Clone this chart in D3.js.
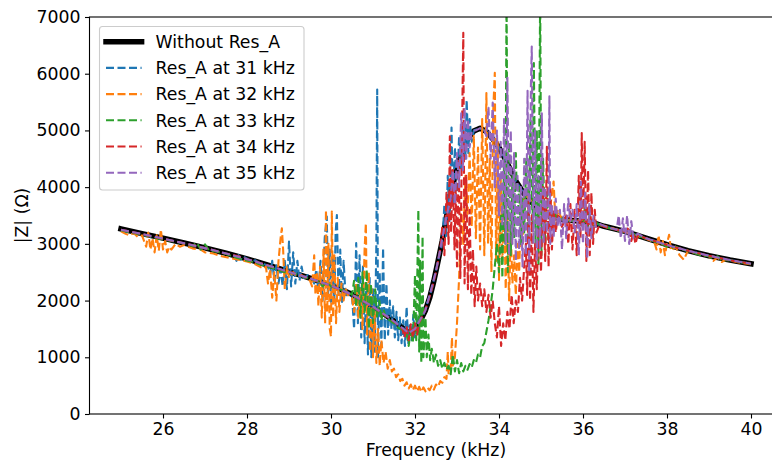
<!DOCTYPE html>
<html>
<head>
<meta charset="utf-8">
<script src="https://cdn.jsdelivr.net/npm/d3@7"></script>
<style>
  body { margin: 0; background: #fff; }
  svg { display: block; }
  text { font-family: "DejaVu Sans", sans-serif; fill: #000; }
</style>
</head>
<body>
<svg id="chart" width="772" height="462"></svg>
<script>
// Impedance magnitude |Z| (ohm) against frequency (kHz)

// Reference sweep without the resonator
const baseFreq = [25, 25.5, 26, 26.5, 27, 27.5, 28, 28.5, 29, 29.5, 30, 30.5, 31, 31.25, 31.5, 31.75, 31.85, 31.95,
  32.05, 32.15, 32.25, 32.35, 32.45, 32.55, 32.65, 32.75, 32.85, 32.95, 33.05, 33.15, 33.25, 33.4, 33.55, 33.7,
  33.85, 34, 34.2, 34.4, 34.6, 34.8, 35, 35.25, 35.5, 35.75, 36, 36.25, 36.5, 37, 37.5, 38, 38.5, 39, 39.5, 40];
const baseZ = [3265, 3180, 3100, 3015, 2930, 2835, 2735, 2625, 2510, 2395, 2270, 2110, 1900, 1770, 1640, 1490, 1430, 1460,
  1540, 1680, 1830, 2050, 2350, 2700, 3060, 3480, 3840, 4200, 4500, 4700, 4850, 4990, 5040, 4980,
  4850, 4700, 4420, 4110, 3880, 3720, 3610, 3490, 3430, 3410, 3400, 3370, 3310, 3220, 3100, 2985, 2880, 2790, 2715, 2650];

// Sweeps with the resonator tuned to 31..35 kHz, as [frequency, |Z|]
const res31 = [[25,3230],[25.25,3200],[25.5,3160],[25.75,3120],[26,3090],[26.25,3050],[26.5,3000],[26.75,2960],[27,2920],[27.25,2870],[27.5,2830],[27.7,2790],[27.75,2700],[27.8,2800],[27.85,2720],[27.9,2780],[28,2740],[28.1,2680],[28.2,2710],[28.3,2660],[28.4,2650],
  [28.5,2600],[28.55,2450],[28.6,2700],[28.65,2350],[28.7,2620],[28.75,2300],[28.8,2550],[28.85,2250],[28.9,2700],[28.95,2200],[29.0,3040],[29.05,2250],[29.1,2850],[29.15,2300],[29.2,2700],[29.25,2350],[29.3,2600],[29.35,2400],[29.45,2450],[29.55,2380],
  [29.6,2300],[29.65,2550],[29.7,2150],[29.75,2700],[29.8,2000],[29.85,3100],[29.9,3480],[29.93,2100],[29.97,2900],[30.0,1950],[30.04,2800],[30.08,2000],[30.11,3200],[30.14,3510],[30.18,2100],[30.22,2900],[30.26,1950],[30.3,2700],[30.35,2050],[30.4,2150],[30.45,2100],
  [30.5,2100],[30.55,1500],[30.6,3015],[30.64,1600],[30.68,2800],[30.72,1350],[30.76,2600],[30.8,1250],[30.84,2300],[30.88,1050],[30.92,2400],[30.96,1000],[31.0,2200],[31.04,1100],[31.08,3000],[31.1,5720],[31.12,1000],[31.16,2500],[31.2,1200],[31.24,2930],[31.28,1300],[31.32,2300],[31.36,1400],[31.4,2000],[31.44,1500],[31.48,1900],[31.52,1350],[31.56,1800],[31.6,1300],[31.64,1700],[31.68,1250],[31.72,1650],[31.76,1200],[31.8,1890],[31.84,1250],[31.88,1600],[31.92,1300],[31.96,1750],[32.0,1350],[32.04,1700],[32.08,1450],
  [32.2,1750],[32.4,2200],[32.55,2700],[32.65,3000],[32.7,3700],[32.74,3100],[32.78,4200],[32.82,3400],[32.87,5050],[32.9,3700],[32.95,4700],[33.0,3900],[33.05,4900],[33.1,4300],[33.15,5100],[33.2,4500],[33.23,5540],[33.27,4600],[33.3,5200],[33.35,4800],[33.4,5000],[33.55,5040],[33.7,4980],[33.85,4850],[34,4700],[34.2,4420],[34.4,4110],[34.6,3880],[34.8,3720],[35,3610],[35.25,3490],[35.5,3430],[35.75,3410],[36,3400],[36.25,3370],[36.5,3310],[37,3220],[37.5,3100],[38,2985],[38.5,2880],[39,2790],[39.5,2715],[40,2650]];

const res32 = [[25,3220],[25.1,3180],[25.2,3150],[25.3,3190],[25.4,3120],[25.5,3150],[25.6,2950],[25.65,3200],[25.7,2900],[25.75,3100],[25.8,2850],[25.85,3150],[25.9,2880],[25.95,3250],[26.0,2900],[26.05,3050],[26.1,2850],[26.15,2950],[26.2,2900],[26.3,3000],[26.4,2950],[26.5,2980],[26.7,2920],[26.9,2900],[27.0,2850],[27.2,2830],[27.4,2780],[27.6,2750],[27.8,2720],[28.0,2690],[28.2,2640],[28.4,2560],
  [28.45,2600],[28.5,2300],[28.55,2550],[28.6,2050],[28.65,2500],[28.7,2000],[28.75,2700],[28.8,3100],[28.83,3275],[28.86,2900],[28.9,2200],[28.95,2600],[29.0,2400],[29.1,2500],[29.2,2420],[29.3,2450],[29.4,2400],[29.5,2350],
  [29.55,2250],[29.6,2800],[29.63,2100],[29.67,2500],[29.7,1900],[29.74,2600],[29.78,1700],[29.82,2900],[29.86,1600],[29.88,3600],[29.91,1800],[29.94,3000],[29.97,1500],[30.0,1365],[30.02,3570],[30.05,1700],[30.08,2800],[30.12,1600],[30.16,2400],[30.2,1800],[30.25,2300],[30.3,2000],[30.35,2200],[30.4,2100],[30.5,2050],
  [30.55,1800],[30.6,2300],[30.65,1700],[30.7,2200],[30.75,1500],[30.8,2900],[30.83,3365],[30.86,1400],[30.9,2500],[30.93,1100],[30.97,2200],[31.0,1000],[31.04,1800],[31.08,900],[31.12,1500],[31.16,850],[31.2,1300],[31.25,900],[31.3,1100],[31.35,800],[31.4,950],[31.45,750],[31.5,800],[31.55,650],[31.6,700],[31.65,580],[31.7,620],[31.75,500],[31.8,560],[31.85,450],[31.9,520],[31.95,420],[32.0,500],[32.05,400],[32.1,480],[32.15,390],[32.2,470],[32.25,400],[32.3,460],[32.35,420],[32.4,500],[32.45,430],[32.5,520],[32.55,480],[32.6,580],[32.65,550],[32.7,650],[32.75,620],[32.78,1100],[32.8,700],[32.85,800],[32.88,1350],[32.9,850],[32.95,1000],[33.0,1600],
  [33.05,2400],[33.1,3660],[33.15,3000],[33.2,4200],[33.25,3500],[33.3,4600],[33.35,3300],[33.4,4900],[33.45,3100],[33.5,4700],[33.55,2900],[33.6,5200],[33.65,2800],[33.7,5660],[33.74,3000],[33.78,4500],[33.82,2500],[33.86,5300],[33.9,6015],[33.93,2700],[33.97,4800],[34.0,2365],[34.04,4200],[34.08,2700],[34.12,3800],[34.16,2200],[34.2,3500],[34.24,2000],[34.28,3200],[34.32,2300],[34.36,2800],[34.4,2100],[34.44,3000],[34.48,2500],[34.52,3600],[34.56,3000],[34.6,3900],[34.7,3800],[34.8,3750],[34.9,3650],[35.0,3600],
  [35.2,3550],[35.3,4100],[35.35,3300],[35.4,3600],[35.5,3430],[35.75,3410],[36,3420],[36.2,3350],[36.5,3320],[37,3210],[37.5,3090],[37.7,3030],[37.75,2900],[37.8,3150],[37.85,2850],[37.9,3050],[37.95,2800],[38.0,3000],[38.05,3160],[38.1,2880],[38.2,2950],[38.3,2800],[38.4,2720],[38.5,2880],[38.6,2850],[38.8,2810],[39.0,2780],[39.1,2700],[39.2,2760],[39.3,2680],[39.4,2720],[39.6,2690],[39.8,2660],[40.0,2640]];

const res33 = [[25,3240],[25.3,3190],[25.6,3150],[25.9,3090],[26.2,3050],[26.5,3010],[26.7,2960],[26.8,3020],[26.9,2900],[27.0,2990],[27.1,2880],[27.3,2860],[27.5,2820],[27.7,2770],[27.9,2720],[28.1,2690],[28.3,2640],[28.5,2600],[28.7,2550],[28.9,2500],[29.1,2480],[29.3,2430],[29.5,2380],[29.7,2340],[29.8,2250],[29.9,2330],[30.0,2250],[30.2,2200],[30.4,2150],
  [30.5,2100],[30.55,2350],[30.6,1900],[30.65,2400],[30.7,1700],[30.75,2500],[30.8,1800],[30.85,2540],[30.9,1500],[30.95,2300],[31.0,1600],[31.05,2200],[31.1,1700],[31.15,2000],[31.2,1650],[31.25,1850],[31.3,1700],[31.4,1650],[31.5,1600],[31.6,1520],[31.7,1480],[31.8,1420],[31.85,1200],[31.9,1500],[31.95,1250],[32.0,2450],[32.03,1300],[32.08,3600],[32.1,1100],[32.12,2700],[32.15,900],[32.18,3130],[32.2,1000],[32.25,1700],[32.28,1000],[32.32,1400],[32.36,950],[32.4,1150],[32.45,900],[32.5,1050],[32.55,850],[32.6,950],[32.65,800],[32.7,900],[32.75,780],[32.8,850],[32.85,700],[32.9,1050],[32.95,750],[33.0,950],[33.05,720],[33.1,900],[33.15,750],[33.2,850],[33.25,780],[33.3,880],[33.35,820],[33.4,950],[33.45,900],[33.5,1050],[33.55,1000],[33.6,1200],[33.65,1250],[33.7,1450],[33.75,1650],[33.8,1900],[33.85,2200],[33.9,2600],[33.95,3000],[34.0,2500],[34.05,3500],
  [34.08,2400],[34.12,4500],[34.15,3000],[34.18,7400],[34.21,2500],[34.24,4800],[34.28,2800],[34.32,4200],[34.36,3100],[34.4,4600],[34.44,3300],[34.48,4000],[34.52,3000],[34.56,3800],[34.6,3200],[34.65,4500],[34.7,3000],[34.75,5200],[34.8,3300],[34.83,6190],[34.87,3000],[34.9,5000],[34.94,2600],[34.98,7400],[35.01,2800],[35.05,4500],[35.1,3000],[35.15,3900],[35.2,3300],[35.3,3600],[35.4,3400],[35.5,3450],[35.7,3400],[35.9,3420],[36.0,3300],[36.05,3700],[36.1,3150],[36.15,3600],[36.2,3250],[36.3,3380],[36.5,3300],[36.7,3260],[36.9,3220],[37.1,3190],[37.3,3150],[37.5,3090],[37.7,3040],[37.9,2990],[38.0,2950],[38.1,2930],[38.2,2950],[38.4,2890],[38.6,2850],[38.8,2800],[39.0,2780],[39.1,2740],[39.2,2780],[39.3,2710],[39.5,2710],[39.7,2680],[40,2650]];

const res34 = [[25,3250],[25.5,3170],[26,3090],[26.5,3010],[27,2925],[27.5,2830],[27.8,2780],[28,2730],[28.5,2620],[29,2505],[29.5,2390],[30,2265],[30.5,2100],[31,1890],[31.5,1630],[31.7,1500],[31.75,1350],[31.8,1550],[31.85,1300],[31.9,1580],[31.95,1350],[32.0,1600],[32.05,1400],[32.1,1620],[32.2,1750],[32.3,1950],[32.4,2200],[32.5,2500],[32.6,2900],
  [32.65,3300],[32.7,2800],[32.75,3900],[32.8,3000],[32.83,4895],[32.86,3200],[32.9,4300],[32.94,2900],[32.97,4000],[33.0,2600],[33.04,4500],[33.08,2400],[33.12,5000],[33.15,6720],[33.18,2300],[33.22,4200],[33.26,2200],[33.3,3600],[33.34,2100],[33.38,2900],[33.42,1900],[33.46,2600],[33.5,2000],[33.55,2300],[33.6,1900],[33.65,2200],[33.7,1800],[33.75,2100],[33.8,1700],[33.85,2000],[33.9,1600],[33.95,1350],[34.0,1900],[34.05,1200],[34.1,1600],[34.15,1300],[34.2,1800],[34.25,1500],[34.3,2100],[34.35,1600],[34.4,2000],[34.45,1800],[34.5,2400],[34.55,2000],[34.6,2600],
  [34.64,3000],[34.67,2100],[34.7,3800],[34.74,2000],[34.78,3500],[34.82,1800],[34.86,3000],[34.9,2200],[34.95,3600],[35.0,2500],[35.05,4000],[35.1,2700],[35.14,4710],[35.18,2600],[35.22,4000],[35.26,2900],[35.3,3600],[35.35,3200],[35.4,3500],[35.5,3300],[35.6,3500],[35.65,3000],[35.7,3700],[35.75,2900],[35.8,3600],[35.85,2800],[35.9,4200],[35.94,3100],[35.97,4955],[36.0,3300],[36.04,4800],[36.08,2700],[36.12,4300],[36.16,2800],[36.2,3900],[36.24,3000],[36.28,3600],[36.32,3200],[36.4,3350],[36.5,3300],
  [37.0,3210],[37.1,3300],[37.15,3050],[37.2,3200],[37.25,3000],[37.3,3150],[37.5,3100],[38,2980],[38.5,2880],[39,2790],[39.5,2710],[40,2650]];

const res35 = [[25,3250],[25.5,3175],[26,3095],[26.5,3010],[27,2925],[27.5,2830],[28,2730],[28.5,2620],[29,2505],[29.5,2390],[30,2265],[30.5,2105],[31,1895],[31.5,1635],[31.85,1430],[32,1500],[32.25,1830],[32.5,2520],[32.75,3480],
  [32.85,3800],[32.9,4300],[32.95,3700],[33.0,4600],[33.05,4000],[33.1,5300],[33.14,4300],[33.18,5400],[33.22,4500],[33.26,5200],[33.3,4700],[33.35,5000],[33.45,5000],[33.55,5040],[33.65,5000],[33.7,4900],[33.75,5400],[33.8,4500],[33.85,5490],[33.9,4000],[33.95,5000],[34.0,3500],[34.04,4800],[34.08,3300],[34.12,5200],[34.16,3000],[34.2,5930],[34.24,2800],[34.28,5000],[34.32,3000],[34.36,4600],[34.4,2700],[34.44,4200],[34.48,2900],[34.52,4000],[34.56,2600],[34.6,4500],[34.64,2800],[34.68,5700],[34.72,2500],[34.76,5800],[34.78,6480],[34.82,3000],[34.86,5000],[34.9,2700],[34.94,4200],[34.98,2900],[35.02,5300],[35.06,3000],[35.1,4000],[35.14,3200],[35.18,3800],[35.2,5600],[35.22,3000],[35.26,3700],[35.3,3100],[35.35,3800],[35.4,3300],[35.45,3600],[35.5,2900],[35.55,3700],[35.6,3100],[35.65,3800],[35.7,3400],[35.75,3600],[35.8,3200],[35.85,3700],[35.9,2800],[35.95,4100],[36.0,3000],[36.05,3900],[36.1,2750],[36.15,3700],[36.2,3100],[36.25,3500],[36.3,3300],[36.4,3350],[36.6,3290],[36.8,3250],[36.85,3500],[36.9,3100],[36.95,3450],[37.0,3050],[37.05,3500],[37.1,3000],[37.15,3400],[37.2,3100],[37.3,3180],[37.5,3100],[38,2980],[38.5,2880],[39,2790],[39.5,2715],[40,2650]];

const seriesData = [res31, res32, res33, res34, res35];
const seriesNames = ["Res_A at 31 kHz", "Res_A at 32 kHz", "Res_A at 33 kHz", "Res_A at 34 kHz", "Res_A at 35 kHz"];
const seriesColors = ["#1f77b4", "#ff7f0e", "#2ca02c", "#d62728", "#9467bd"];
const baseName = "Without Res_A";
const xTicks = [26, 28, 30, 32, 34, 36, 38, 40];
const yTicks = [0, 1000, 2000, 3000, 4000, 5000, 6000, 7000];

(function draw() {
  const FONT = 17.3;
  const svg = d3.select("#chart");

  const pL = 89.5, pR = 782.5, pT = 17, pB = 414;
  const x = d3.scaleLinear().domain([24.25, 40.75]).range([pL, pR]);
  const y = d3.scaleLinear().domain([0, 7000]).range([pB, pT]);

  svg.append("defs").append("clipPath").attr("id", "plotClip")
    .append("rect").attr("x", pL).attr("y", pT)
    .attr("width", pR - pL).attr("height", pB - pT);

  const plot = svg.append("g").attr("clip-path", "url(#plotClip)");
  const line = d3.line().x(d => x(d[0])).y(d => y(d[1]));

  // reference sweep: thick black line underneath
  plot.append("path")
    .datum(baseFreq.map((f, i) => [f, baseZ[i]]))
    .attr("d", line)
    .attr("fill", "none")
    .attr("stroke", "#000")
    .attr("stroke-width", 5.5)
    .attr("stroke-linejoin", "round")
    .attr("stroke-linecap", "square");

  // dashed resonator sweeps
  seriesData.forEach((data, i) => {
    plot.append("path")
      .datum(data)
      .attr("d", line)
      .attr("fill", "none")
      .attr("stroke", seriesColors[i])
      .attr("stroke-width", 2.1)
      .attr("stroke-dasharray", "8,3.5")
      .attr("stroke-linejoin", "round");
  });

  // axes frame
  svg.append("rect")
    .attr("x", pL).attr("y", pT)
    .attr("width", pR - pL).attr("height", pB - pT)
    .attr("fill", "none").attr("stroke", "#000").attr("stroke-width", 1.1);

  const xAxis = svg.append("g")
    .attr("transform", `translate(0,${pB})`)
    .call(d3.axisBottom(x).tickValues(xTicks).tickFormat(d3.format("d")).tickSize(4.5).tickPadding(4.5).tickSizeOuter(0));
  const yAxis = svg.append("g")
    .attr("transform", `translate(${pL},0)`)
    .call(d3.axisLeft(y).tickValues(yTicks).tickFormat(d3.format("d")).tickSize(4.5).tickPadding(4.5).tickSizeOuter(0));

  [xAxis, yAxis].forEach(g => {
    g.select(".domain").remove();
    g.selectAll(".tick line").attr("stroke", "#000").attr("stroke-width", 1.1);
    g.selectAll(".tick text").attr("font-size", FONT).attr("fill", "#000")
      .attr("font-family", "DejaVu Sans, sans-serif");
  });

  // axis titles
  svg.append("text")
    .attr("x", (pL + pR) / 2).attr("y", 456)
    .attr("text-anchor", "middle").attr("font-size", FONT)
    .text("Frequency (kHz)");
  svg.append("text")
    .attr("transform", `translate(28,${(pT + pB) / 2}) rotate(-90)`)
    .attr("text-anchor", "middle").attr("font-size", FONT)
    .text("|Z| (Ω)");

  // legend
  const legend = svg.append("g");
  legend.append("rect")
    .attr("x", 99.5).attr("y", 26.5).attr("width", 204.5).attr("height", 163.5)
    .attr("rx", 3).attr("ry", 3)
    .attr("fill", "#fff").attr("fill-opacity", 0.8)
    .attr("stroke", "#cccccc").attr("stroke-width", 1.1);

  const rowY = i => 41.7 + i * 26.2;
  const hx0 = 106, hx1 = 141.6, tx = 155.6;

  legend.append("line")
    .attr("x1", hx0).attr("x2", hx1).attr("y1", rowY(0)).attr("y2", rowY(0))
    .attr("stroke", "#000").attr("stroke-width", 5.5).attr("stroke-linecap", "square");
  legend.append("text")
    .attr("x", tx).attr("y", rowY(0) + 6.3).attr("font-size", FONT).text(baseName);

  seriesNames.forEach((name, i) => {
    const yy = rowY(i + 1);
    legend.append("line")
      .attr("x1", hx0).attr("x2", hx1).attr("y1", yy).attr("y2", yy)
      .attr("stroke", seriesColors[i]).attr("stroke-width", 2.1)
      .attr("stroke-dasharray", "8,3.5");
    legend.append("text")
      .attr("x", tx).attr("y", yy + 6.3).attr("font-size", FONT).text(name);
  });
})();
</script>
</body>
</html>
